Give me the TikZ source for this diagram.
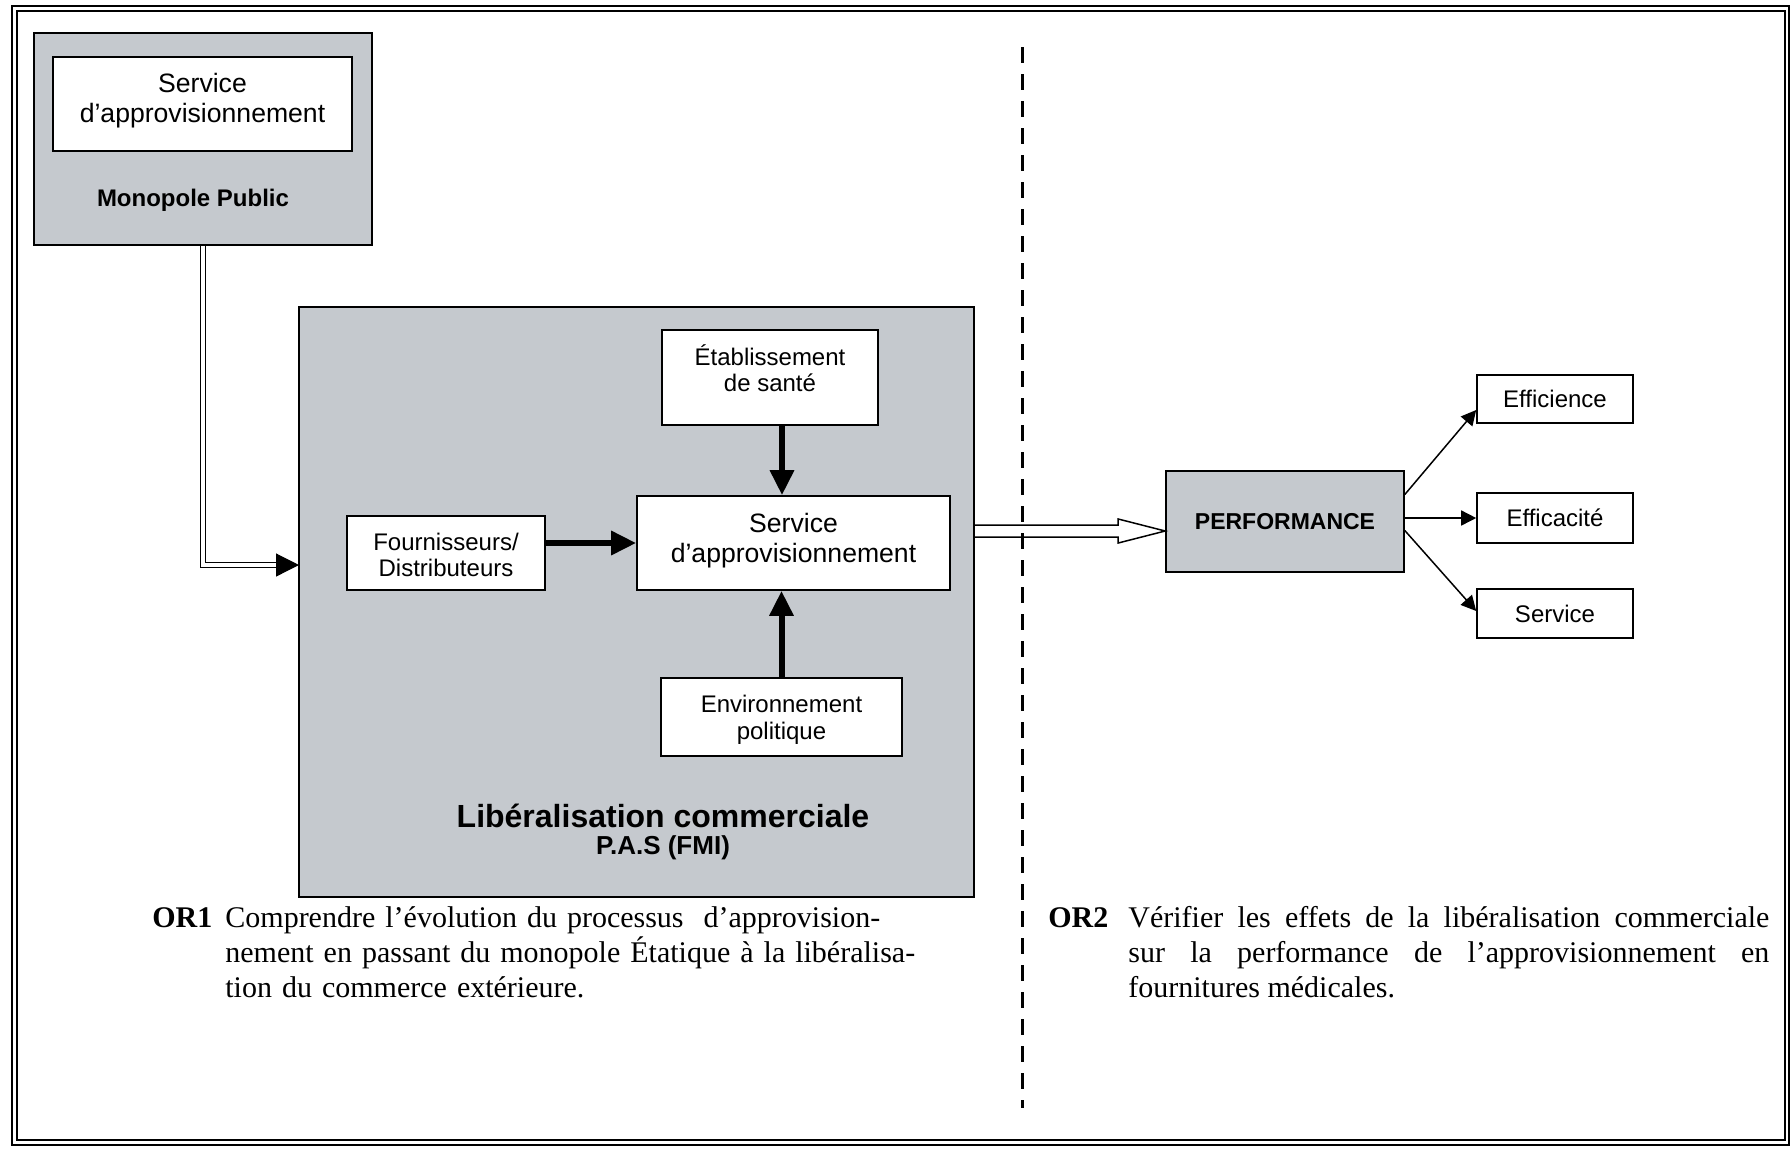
\documentclass[tikz,border=0pt]{standalone}
\usepackage{fontspec}
\setmainfont{Liberation Serif}
\setsansfont{Liberation Sans}
\usetikzlibrary{arrows.meta,calc}
\definecolor{boxgray}{RGB}{197,201,206}

\begin{document}
\begin{tikzpicture}[x=0.5pt,y=-0.5pt,
  graybox/.style={draw=black,fill=boxgray,line width=0.8pt,inner sep=0pt},
  whitebox/.style={draw=black,fill=white,line width=0.8pt,inner sep=0pt},
  bigtext/.style={font=\sffamily\fontsize{13.3}{15}\selectfont,align=center,inner sep=0pt},
  smalltext/.style={font=\sffamily\fontsize{12}{13}\selectfont,align=center,inner sep=0pt},
  boldtext/.style={font=\sffamily\bfseries\fontsize{12}{13}\selectfont,inner sep=0pt},
  thickarrow/.style={line width=3pt,-{Triangle[length=12.5pt,width=11.5pt]}},
  thinarrow/.style={line width=0.75pt,-{Triangle[length=7.5pt,width=7.5pt]}},
  doubleline/.style={line width=0.6pt,double=white,double distance=1.8pt,
    -{Triangle[length=11.5pt,width=11.5pt]}},
  objtext/.style={font=\fontsize{15}{17.5}\selectfont,inner sep=0pt},
  objtag/.style={font=\bfseries\fontsize{15}{17.5}\selectfont,inner sep=0pt,anchor=base west},
]
\useasboundingbox (0,0) rectangle (1790,1148);

% outer double frame
\draw[line width=0.75pt] (12,6) rectangle (1789,1145);
\draw[line width=0.75pt] (17,11) rectangle (1785,1140);

% public monopoly
\node[graybox,minimum width=169pt,minimum height=106pt] (mono) at (203,139) {};
\node[whitebox,minimum width=149.5pt,minimum height=47pt] (monosvc) at (202.5,104) {};
\node[bigtext] (monosvctext) at (202.5,100.5) {Service\\d'approvisionnement};
\node[boldtext] (monolabel) at (193,200) {Monopole Public};

% trade liberalisation block
\node[graybox,minimum width=337.5pt,minimum height=295pt] (lib) at (636.5,602) {};
\node[whitebox,minimum width=99pt,minimum height=37pt] (fourn) at (446,553) {};
\node[smalltext] (fourntext) at (446,555) {Fournisseurs/\\Distributeurs};
\node[whitebox,minimum width=108pt,minimum height=47.5pt] (etab) at (770,377.5) {};
\node[smalltext] (etabtext) at (770,368) {Établissement\\de santé};
\node[whitebox,minimum width=156.5pt,minimum height=47pt] (svc) at (793.5,543) {};
\node[bigtext] (svctext) at (793.5,541) {Service\\d'approvisionnement};
\node[whitebox,minimum width=120.5pt,minimum height=39pt] (env) at (781.5,717) {};
\node[smalltext,font=\sffamily\fontsize{12}{13.5}\selectfont] (envtext) at (781.5,720) {Environnement\\politique};
\node[font=\sffamily\bfseries\fontsize{16}{18}\selectfont,inner sep=0pt] (libtitle) at (663,816) {Libéralisation commerciale};
\node[font=\sffamily\bfseries\fontsize{13}{15}\selectfont,inner sep=0pt] (libsub) at (663,848) {P.A.S (FMI)};

% connectors inside the block
\coordinate (libin) at (299,565);
\draw[doubleline] (mono.south) |- (libin);
\draw[thickarrow] (fourn.east |- svc.west) -- (svc.west);
\draw[thickarrow] ([xshift=6pt]etab.south) -- ([xshift=6pt]etab.south |- svc.north);
\draw[thickarrow] (env.north) -- (env.north |- svc.south);

% performance side
\node[graybox,minimum width=119pt,minimum height=50.5pt,
  font=\sffamily\bfseries\fontsize{11.5}{13}\selectfont] (perf) at (1285,521.5) {PERFORMANCE};
\node[whitebox,smalltext,minimum width=78pt,minimum height=24pt] (effi) at (1555,399) {Efficience};
\node[whitebox,smalltext,minimum width=78pt,minimum height=25pt] (effa) at (1555,518) {Efficacité};
\node[whitebox,smalltext,minimum width=78pt,minimum height=24.5pt] (serv) at (1555,613.5) {Service};

\draw[thinarrow] ([yshift=13.5pt]perf.east) -- ([yshift=-5.5pt]effi.west);
\draw[thinarrow] (perf.east |- effa.west) -- (effa.west);
\draw[thinarrow] ([yshift=-4.5pt]perf.east) -- ([yshift=1.25pt]serv.west);

% hollow block arrow from the block to performance
\coordinate (pin) at ([yshift=-4.75pt]perf.west);
\coordinate (lout) at (lib.east |- pin);
\draw[line width=0.75pt,line join=miter]
  ($(lout)+(0,-6)$) -- ($(pin)+(-47,-6)$) -- ($(pin)+(-47,-12)$) -- (pin)
  -- ($(pin)+(-47,12)$) -- ($(pin)+(-47,6)$) -- ($(lout)+(0,6)$);

% dashed separator
\draw[line width=1.5pt,dash pattern=on 8pt off 5.5pt] (1022,47) -- (1022,1108);

% research objectives
\node[objtag] (or1tag) at (152,927.5) {OR1};
\node[objtext,anchor=base west,text width=370pt,align=left] (or1text) at (225,927.5)
  {Comprendre l'évolution du processus\ \ d'approvision-\\nement en passant du monopole Étatique à la libéralisa-\\tion du commerce extérieure.};
\node[objtag] (or2tag) at (1048,927.5) {OR2};
\node[objtext,anchor=base west,text width=320.5pt,align=justify] (or2text) at (1128,927.5)
  {Vérifier les effets de la libéralisation commerciale\linebreak sur la performance de l'approvisionnement en\linebreak fournitures médicales.};
\end{tikzpicture}
\end{document}
